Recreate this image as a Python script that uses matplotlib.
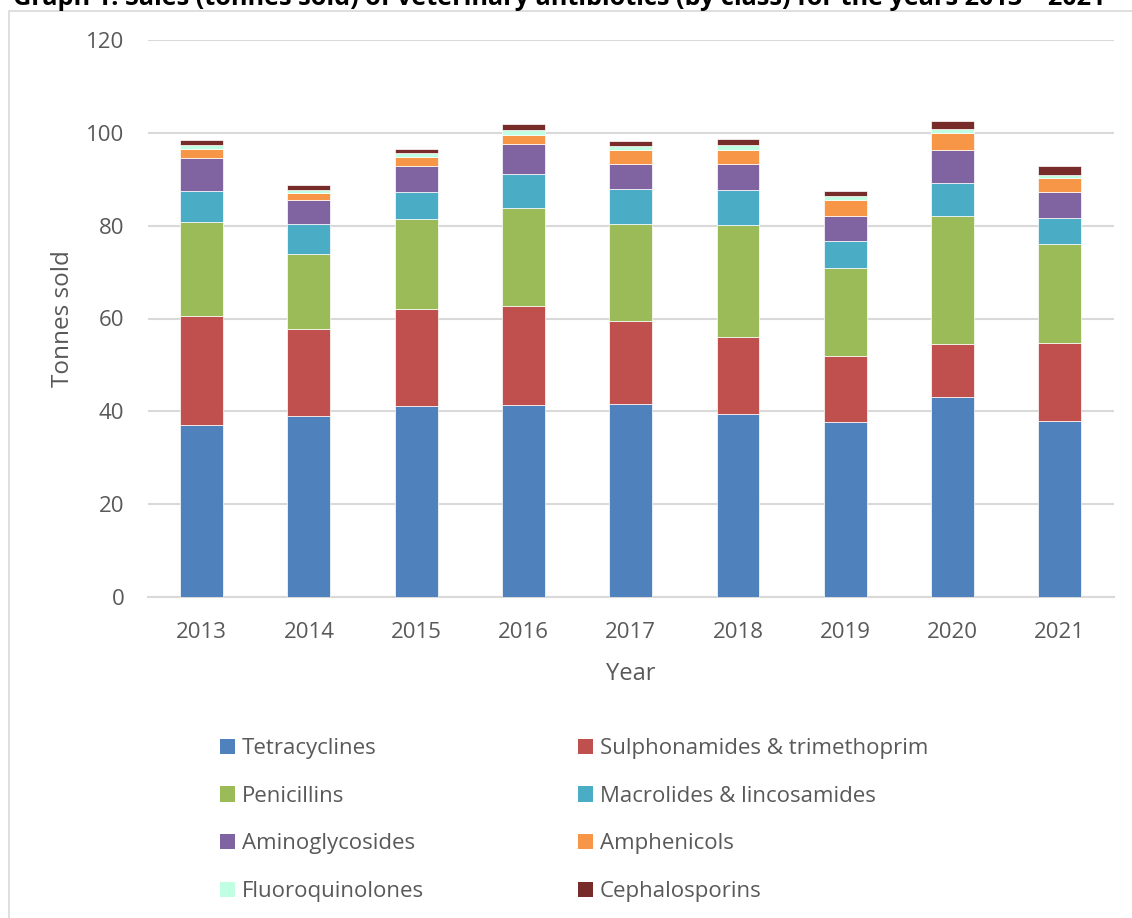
import matplotlib
matplotlib.use("Agg")
import matplotlib.pyplot as plt
from matplotlib.patches import Patch, Rectangle
import numpy as np

plt.rcParams['font.family'] = ['Open Sans', 'DejaVu Sans']

years = ['2013', '2014', '2015', '2016', '2017', '2018', '2019', '2020', '2021']

# tonnes sold per class
tetracyclines = [37.0, 39.0, 41.1, 41.4, 41.5, 39.4, 37.65, 43.05, 37.85]
sulphonamides = [23.6, 18.8, 21.0, 21.4, 18.05, 16.7, 14.35, 11.35, 16.95]
penicillins = [20.15, 16.0, 19.4, 21.1, 20.85, 24.1, 18.8, 27.65, 21.3]
macrolides = [6.75, 6.6, 5.7, 7.3, 7.45, 7.4, 5.9, 7.15, 5.6]
aminoglycosides = [7.0, 5.2, 5.6, 6.3, 5.35, 5.6, 5.3, 7.0, 5.6]
amphenicols = [2.0, 1.4, 2.0, 2.1, 3.1, 3.2, 3.6, 3.7, 2.9]
fluoroquinolones = [0.9, 0.7, 0.8, 1.0, 0.9, 0.9, 0.8, 0.9, 0.8]
cephalosporins = [1.1, 1.1, 0.95, 1.3, 1.1, 1.3, 1.1, 1.8, 1.9]

series = [
    ("Tetracyclines", tetracyclines, "#4F81BD"),
    ("Sulphonamides & trimethoprim", sulphonamides, "#C0504D"),
    ("Penicillins", penicillins, "#9BBB59"),
    ("Macrolides & lincosamides", macrolides, "#4BACC6"),
    ("Aminoglycosides", aminoglycosides, "#8064A2"),
    ("Amphenicols", amphenicols, "#F79646"),
    ("Fluoroquinolones", fluoroquinolones, "#C0FFE2"),
    ("Cephalosporins", cephalosporins, "#772C2A"),
]

txt = "#595959"
grid = "#D9D9D9"

fig = plt.figure(figsize=(11.32, 9.18), dpi=100)
W, H = 1132, 918
ax = fig.add_axes([148 / W, 1 - 597 / H, (1113.5 - 148) / W, (597 - 40) / H])

x = np.arange(len(years))
bottom = np.zeros(len(years))
for name, vals, col in series:
    ax.bar(x, vals, width=0.4, bottom=bottom, color=col, edgecolor='white',
           linewidth=0.5, label=name, zorder=3)
    bottom += np.array(vals)

ax.set_xlim(-0.5, len(years) - 0.5)
ax.set_ylim(0, 120)
ax.set_yticks(np.arange(0, 121, 20))
ax.set_xticks(x)
ax.set_xticklabels(years)
ax.yaxis.grid(True, color=grid, linewidth=1.5, zorder=0)
ax.set_axisbelow(True)
for s in ['top', 'right', 'left']:
    ax.spines[s].set_visible(False)
ax.spines['bottom'].set_color(grid)
ax.spines['bottom'].set_linewidth(1.5)
ax.tick_params(axis='both', length=0, labelsize=16, colors=txt)
ax.tick_params(axis='y', pad=17)
ax.tick_params(axis='x', pad=18)

ax.set_ylabel("Tonnes sold", fontsize=17.5, color=txt, labelpad=8)
ax.set_xlabel("Year", fontsize=17, color=txt, labelpad=14)

# legend, Excel style: filled row by row
handles = [Patch(facecolor=c, edgecolor='none', label=n) for n, v, c in series]
order = [0, 2, 4, 6, 1, 3, 5, 7]
leg = fig.legend([handles[i] for i in order], [series[i][0] for i in order],
                 loc='upper left', bbox_to_anchor=(200 / W, 1 - 718 / H),
                 ncol=2, frameon=False, fontsize=16, handlelength=0.68,
                 handleheight=0.68, handletextpad=0.32, columnspacing=6.9,
                 labelspacing=1.2)
for t in leg.get_texts():
    t.set_color(txt)

# chart area border
fig.patches.append(Rectangle((9 / W, -0.01), 1.1, 1 - 11 / H + 0.01,
                             transform=fig.transFigure, fill=False,
                             edgecolor=grid, linewidth=1.2))

# title, cut off at the top in the source
fig.text(13 / W, 1 - 5 / H,
         "Graph 1: Sales (tonnes sold) of veterinary antibiotics (by class) for the years 2013 \u2013 2021",
         fontsize=18.2, fontweight='bold', color='black', ha='left', va='baseline')

fig.savefig("out.png", dpi=100)
